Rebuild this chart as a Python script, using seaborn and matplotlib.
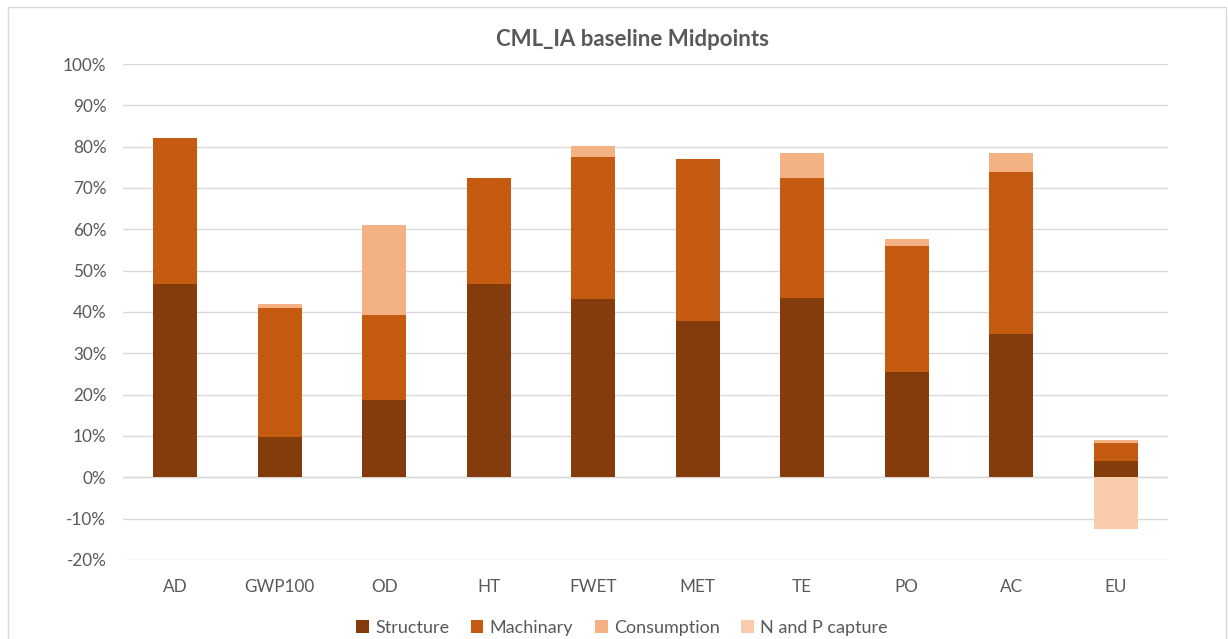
import matplotlib
matplotlib.use("Agg")
import matplotlib.pyplot as plt
from matplotlib.patches import Patch, Rectangle
from matplotlib.ticker import PercentFormatter
import numpy as np
import pandas as pd
import seaborn as sns

categories = ["AD", "GWP100", "OD", "HT", "FWET", "MET", "TE", "PO", "AC", "EU"]
structure = [46.7, 9.7, 18.6, 46.7, 43.1, 37.8, 43.3, 25.4, 34.6, 4.0]
machinary = [35.4, 31.2, 20.6, 25.7, 34.5, 39.2, 29.1, 30.5, 39.2, 4.3]
consumption = [0.0, 1.0, 21.8, 0.0, 2.5, 0.0, 6.0, 1.7, 4.7, 0.7]
np_capture = [0.0, 0.0, 0.0, 0.0, 0.0, 0.0, 0.0, 0.0, 0.0, -12.5]

series_names = ["Structure", "Machinary", "Consumption", "N and P capture"]
colors = ["#843C0C", "#C55A11", "#F4B183", "#F8CBAD"]

sns.set_theme(style="white")
plt.rcParams["font.family"] = ["Lato", "DejaVu Sans"]
plt.rcParams["axes.unicode_minus"] = False
text_color = "#595959"

fig = plt.figure(figsize=(12.28, 6.39), dpi=100)
ax = fig.add_axes([123 / 1228, 1 - 560 / 639, (1168 - 123) / 1228, (560 - 64) / 639])

df = pd.DataFrame({
    "category": categories,
    "Structure": structure,
    "Machinary": machinary,
    "Consumption": consumption,
    "N and P capture": np_capture,
})

s = np.array(structure)
m = np.array(machinary)
bottoms = {
    "Structure": np.zeros(len(categories)),
    "Machinary": s,
    "Consumption": s + m,
    "N and P capture": np.zeros(len(categories)),
}

for name, col in zip(series_names, colors):
    sns.barplot(data=df, x="category", y=name, bottom=bottoms[name], color=col,
                width=0.42, saturation=1, ax=ax, linewidth=0, zorder=3)

ax.set_ylim(-20, 100)
ax.set_yticks(np.arange(-20, 101, 10))
ax.yaxis.set_major_formatter(PercentFormatter(decimals=0))
ax.set_xlim(-0.5, len(categories) - 0.5)
ax.grid(axis="y", color="#D9D9D9", linewidth=1, zorder=0)
ax.axhline(0, color="#D9D9D9", linewidth=1, zorder=1)
for sp in ax.spines.values():
    sp.set_visible(False)
ax.set_xlabel("")
ax.set_ylabel("")
ax.tick_params(axis="both", length=0, labelsize=12.3, colors=text_color)
ax.tick_params(axis="y", pad=12)
ax.tick_params(axis="x", pad=14)

fig.text(633 / 1228, 1 - 40 / 639, "CML_IA baseline Midpoints", ha="center", va="center",
         fontsize=16, fontweight="bold", color=text_color)

handles = [Patch(facecolor=col, edgecolor="none") for col in colors]
fig.legend(handles, series_names, loc="center", bbox_to_anchor=(622 / 1228, 1 - 628 / 639),
           ncol=4, frameon=False, fontsize=13, labelcolor=text_color,
           handlelength=0.7, handleheight=0.7, handletextpad=0.35, columnspacing=1.2)

fig.patches.append(Rectangle((8 / 1228, -0.01), (1226 - 8) / 1228, 1 - 7 / 639 + 0.01,
                             transform=fig.transFigure, fill=False,
                             edgecolor="#D9D9D9", linewidth=1))

fig.savefig("out.png", dpi=100)
